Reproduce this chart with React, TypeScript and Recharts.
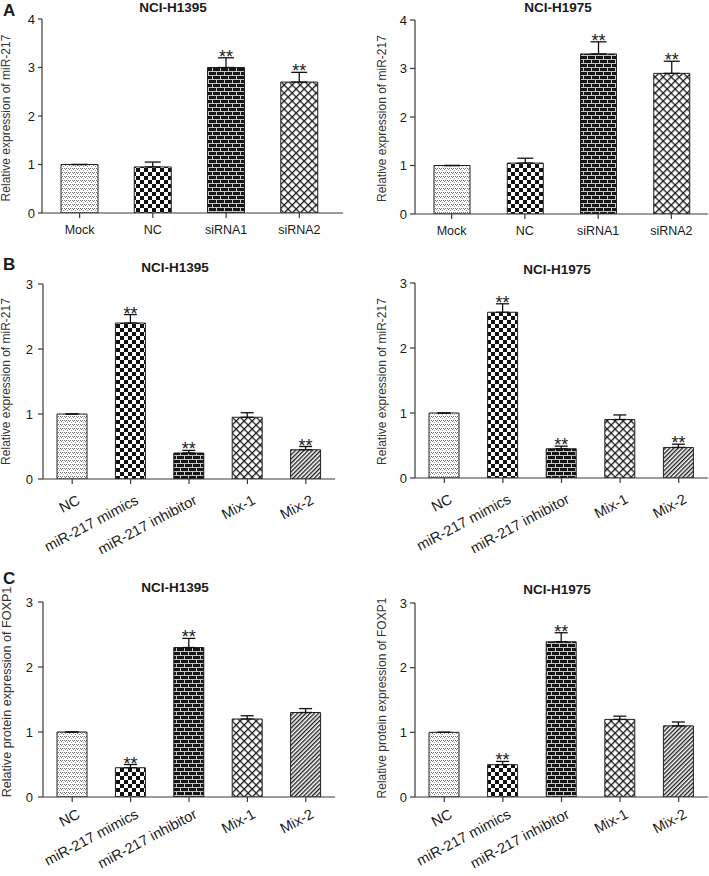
import { BarChart, Bar, XAxis, YAxis, ErrorBar, Cell, LabelList } from "recharts"

// categories
const siRnaGroups = ["Mock", "NC", "siRNA1", "siRNA2"]
const mimicGroups = ["NC", "miR-217 mimics", "miR-217 inhibitor", "Mix-1", "Mix-2"]

// fill pattern per bar
const siRnaFills = ["dots", "checker", "brick", "cross"]
const mimicFills = ["dots", "checker", "brick", "cross", "stripe"]
const foxp1Fills = ["dots", "checker", "brick", "cross", "stripe"]

// A: miR-217 after siRNA
const miR217H1395Si = [1.0, 0.95, 3.0, 2.7]
const miR217H1395SiErr = [0, 0.1, 0.2, 0.2]
const miR217H1395SiSig = ["", "", "**", "**"]
const miR217H1975Si = [1.0, 1.05, 3.3, 2.9]
const miR217H1975SiErr = [0, 0.1, 0.25, 0.25]
const miR217H1975SiSig = ["", "", "**", "**"]

// B: miR-217 after mimics / inhibitor
const miR217H1395Mi = [1.0, 2.4, 0.4, 0.95, 0.45]
const miR217H1395MiErr = [0, 0.13, 0.04, 0.07, 0.05]
const miR217H1395MiSig = ["", "**", "**", "", "**"]
const miR217H1975Mi = [1.0, 2.55, 0.45, 0.9, 0.47]
const miR217H1975MiErr = [0, 0.13, 0.04, 0.07, 0.05]
const miR217H1975MiSig = ["", "**", "**", "", "**"]

// C: FOXP1 protein
const foxp1H1395 = [1.0, 0.45, 2.3, 1.2, 1.3]
const foxp1H1395Err = [0, 0.05, 0.14, 0.05, 0.06]
const foxp1H1395Sig = ["", "**", "**", "", ""]
const foxp1H1975 = [1.0, 0.5, 2.4, 1.2, 1.1]
const foxp1H1975Err = [0, 0.05, 0.14, 0.05, 0.06]
const foxp1H1975Sig = ["", "**", "**", "", ""]

const ticks4 = [0, 1, 2, 3, 4]
const ticks3 = [0, 1, 2, 3]

const INK = "#1a1a1a"
const AXIS = "#3a3a3a"

function rows(cats: string[], vals: number[], errs: number[], sigs: string[], fills: string[]) {
  return cats.map((name, i) => ({ name, value: vals[i], err: [0, errs[i]], sig: sigs[i], fill: fills[i] }))
}

function patternDefs(p: string) {
  return (
    <defs>
      <pattern id={`${p}-dots`} width="4" height="4" patternUnits="userSpaceOnUse">
        <rect width="4" height="4" fill="#fff" />
        <rect x="0" y="0" width="1" height="1" fill="#6f6f6f" />
        <rect x="2" y="0" width="1" height="1" fill="#6f6f6f" />
        <rect x="1" y="1" width="1" height="1" fill="#7a7a7a" />
        <rect x="3" y="2" width="1" height="1" fill="#9a9a9a" />
      </pattern>
      <pattern id={`${p}-checker`} width="8" height="8" patternUnits="userSpaceOnUse">
        <rect width="8" height="8" fill="#fff" />
        <rect x="0" y="0" width="4" height="4" fill="#111" />
        <rect x="4" y="4" width="4" height="4" fill="#111" />
      </pattern>
      <pattern id={`${p}-brick`} width="8" height="8" patternUnits="userSpaceOnUse">
        <rect width="8" height="8" fill="#151515" />
        <rect x="0" y="3" width="8" height="1" fill="#c8c8c8" />
        <rect x="0" y="7" width="8" height="1" fill="#c8c8c8" />
        <rect x="0" y="0" width="1" height="3" fill="#c8c8c8" />
        <rect x="4" y="4" width="1" height="3" fill="#c8c8c8" />
      </pattern>
      <pattern id={`${p}-cross`} width="5.66" height="5.66" patternUnits="userSpaceOnUse" patternTransform="rotate(45)">
        <rect width="5.66" height="5.66" fill="#fff" />
        <rect x="0" y="0" width="5.66" height="1.3" fill="#1c1c1c" />
        <rect x="0" y="0" width="1.3" height="5.66" fill="#1c1c1c" />
      </pattern>
      <pattern id={`${p}-stripe`} width="3" height="3" patternUnits="userSpaceOnUse" patternTransform="rotate(45)">
        <rect width="3" height="3" fill="#fff" />
        <rect x="0" y="0" width="1.4" height="3" fill="#222" />
      </pattern>
    </defs>
  )
}

function AngledTick(props: any) {
  const { x, y, payload } = props
  const ax = Number(x) + 4
  const ay = Number(y)
  return (
    <g transform={`translate(${ax},${ay}) rotate(-28)`}>
      <text x={0} y={0} dy="0.72em" textAnchor="end" fontSize={14.5} fill={INK}>
        {payload.value}
      </text>
    </g>
  )
}

function starContent(data: any[]) {
  return (props: any) => {
    const { x, y, width, height, index } = props
    const row = data[index]
    if (!row || !row.sig) return null
    const top = Number(y) - (row.err[1] * Number(height)) / row.value
    return (
      <text x={Number(x) + Number(width) / 2} y={top + 5} textAnchor="middle" fontSize={18} fill={INK}>
        {row.sig}
      </text>
    )
  }
}

const panels = [
  {
    id: "a1", left: 0, top: 0, w: 355, h: 240,
    margin: { top: 19, right: 12, bottom: 0, left: 0 }, yWidth: 42, xHeight: 27,
    pad: { left: 1, right: 7 }, barSize: 37, cap: 8, max: 4, ticks: ticks4, angled: false, xMargin: 7,
    yTick: { size: 4, margin: 3 },
    data: rows(siRnaGroups, miR217H1395Si, miR217H1395SiErr, miR217H1395SiSig, siRnaFills),
  },
  {
    id: "a2", left: 355, top: 0, w: 354, h: 240,
    margin: { top: 20, right: 1, bottom: 0, left: 0 }, yWidth: 60, xHeight: 26,
    pad: { left: 0, right: 0 }, barSize: 36, cap: 8, max: 4, ticks: ticks4, angled: false, xMargin: 7,
    yTick: { size: 5, margin: 3 },
    data: rows(siRnaGroups, miR217H1975Si, miR217H1975SiErr, miR217H1975SiSig, siRnaFills),
  },
  {
    id: "b1", left: 0, top: 240, w: 355, h: 320,
    margin: { top: 44, right: 20, bottom: 0, left: 0 }, yWidth: 43, xHeight: 81,
    pad: { left: 0, right: 0 }, barSize: 30, cap: 6.5, max: 3, ticks: ticks3, angled: true, xMargin: 10,
    yTick: { size: 5, margin: 5 },
    data: rows(mimicGroups, miR217H1395Mi, miR217H1395MiErr, miR217H1395MiSig, mimicFills),
  },
  {
    id: "b2", left: 355, top: 240, w: 354, h: 320,
    margin: { top: 43, right: 1, bottom: 0, left: 0 }, yWidth: 60, xHeight: 82,
    pad: { left: 0, right: 0 }, barSize: 30, cap: 6.5, max: 3, ticks: ticks3, angled: true, xMargin: 10,
    yTick: { size: 5, margin: 3 },
    data: rows(mimicGroups, miR217H1975Mi, miR217H1975MiErr, miR217H1975MiSig, mimicFills),
  },
  {
    id: "c1", left: 0, top: 560, w: 355, h: 316,
    margin: { top: 42, right: 20, bottom: 0, left: 0 }, yWidth: 43, xHeight: 79,
    pad: { left: 0, right: 0 }, barSize: 30, cap: 6.5, max: 3, ticks: ticks3, angled: true, xMargin: 6,
    yTick: { size: 5, margin: 5 },
    data: rows(mimicGroups, foxp1H1395, foxp1H1395Err, foxp1H1395Sig, foxp1Fills),
  },
  {
    id: "c2", left: 355, top: 560, w: 354, h: 316,
    margin: { top: 43, right: 1, bottom: 0, left: 0 }, yWidth: 60, xHeight: 79,
    pad: { left: 0, right: 0 }, barSize: 30, cap: 6.5, max: 3, ticks: ticks3, angled: true, xMargin: 6,
    yTick: { size: 5, margin: 3 },
    data: rows(mimicGroups, foxp1H1975, foxp1H1975Err, foxp1H1975Sig, foxp1Fills),
  },
]

function Panel({ p }: { p: (typeof panels)[number] }) {
  return (
    <div style={{ position: "absolute", left: p.left, top: p.top }}>
      <BarChart width={p.w} height={p.h} data={p.data} margin={p.margin} style={{ overflow: "visible" }}>
        {patternDefs(p.id)}
        <XAxis
          dataKey="name"
          interval={0}
          height={p.xHeight}
          padding={p.pad}
          stroke={AXIS}
          strokeWidth={1.2}
          tickSize={5}
          tickMargin={p.xMargin}
          tick={p.angled ? <AngledTick /> : { fontSize: 12.5, fill: INK }}
        />
        <YAxis
          width={p.yWidth}
          domain={[0, p.max]}
          ticks={p.ticks}
          allowDataOverflow
          stroke={AXIS}
          strokeWidth={1.2}
          tickSize={p.yTick.size}
          tickMargin={p.yTick.margin}
          tick={{ fontSize: 13, fill: INK }}
        />
        <Bar dataKey="value" barSize={p.barSize} isAnimationActive={false} stroke="#222" strokeWidth={1}>
          {p.data.map((d, i) => (
            <Cell key={i} fill={`url(#${p.id}-${d.fill})`} />
          ))}
          <ErrorBar dataKey="err" width={p.cap} stroke="#111" strokeWidth={1.3} isAnimationActive={false} />
          <LabelList dataKey="sig" content={starContent(p.data)} />
        </Bar>
      </BarChart>
    </div>
  )
}

// overlay texts: titles, panel letters, y-axis labels
const titles = [
  { x: 173, y: 11.5, text: "NCI-H1395" },
  { x: 558, y: 12, text: "NCI-H1975" },
  { x: 175, y: 272, text: "NCI-H1395" },
  { x: 557, y: 274, text: "NCI-H1975" },
  { x: 175, y: 592, text: "NCI-H1395" },
  { x: 557, y: 594, text: "NCI-H1975" },
]
const letters = [
  { x: 3, y: 16, text: "A" },
  { x: 3, y: 270, text: "B" },
  { x: 3, y: 584, text: "C" },
]
const yLabels = [
  { x: 10, y: 118, size: 12, text: "Relative expression of miR-217" },
  { x: 386, y: 118.5, size: 12, text: "Relative expression of miR-217" },
  { x: 10, y: 381.5, size: 12, text: "Relative expression of miR-217" },
  { x: 386, y: 381.5, size: 12, text: "Relative expression of miR-217" },
  { x: 10.5, y: 692, size: 12.6, text: "Relative protein expression of FOXP1" },
  { x: 386, y: 698, size: 12, text: "Relative protein expression of FOXP1" },
]

export default function App() {
  return (
    <div
      style={{
        position: "absolute",
        left: 0,
        top: 0,
        width: 709,
        height: 876,
        background: "#fff",
        fontFamily: '"Liberation Sans", Arial, sans-serif',
      }}
    >
      <style>{`.recharts-surface{overflow:visible}.recharts-wrapper{overflow:visible}`}</style>
      {panels.map((p) => (
        <Panel key={p.id} p={p} />
      ))}
      <svg width={709} height={876} style={{ position: "absolute", left: 0, top: 0, pointerEvents: "none" }}>
        {titles.map((t, i) => (
          <text key={i} x={t.x} y={t.y} textAnchor="middle" fontSize={13.5} fontWeight="bold" fill={INK}>
            {t.text}
          </text>
        ))}
        {letters.map((t, i) => (
          <text key={i} x={t.x} y={t.y} fontSize={17} fontWeight="bold" fill={INK}>
            {t.text}
          </text>
        ))}
        {yLabels.map((t, i) => (
          <text
            key={i}
            x={t.x}
            y={t.y}
            textAnchor="middle"
            fontSize={t.size}
            fill="#333"
            transform={`rotate(-90 ${t.x} ${t.y})`}
          >
            {t.text}
          </text>
        ))}
      </svg>
    </div>
  )
}
